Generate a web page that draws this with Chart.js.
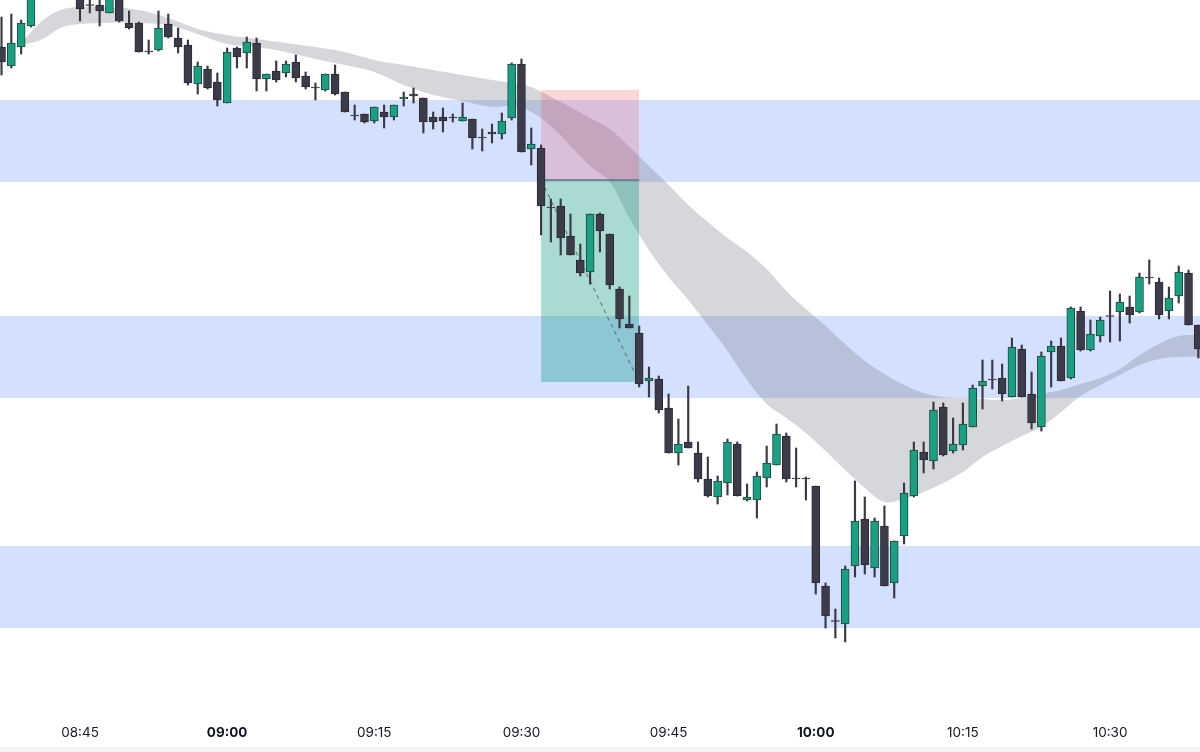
<!DOCTYPE html>
<html>
<head>
<meta charset="utf-8">
<script src="https://cdn.jsdelivr.net/npm/chart.js@4.4.1/dist/chart.umd.min.js"></script>
<style>
html,body{margin:0;padding:0;background:#fff;overflow:hidden}
#wrap{position:relative;width:1200px;height:752px}
#strip{position:absolute;left:0;bottom:0;width:1200px;height:5px;background:#f3f3f4}
canvas{display:block}
</style>
</head>
<body>
<div id="wrap"><canvas id="c" width="1200" height="752"></canvas><div id="strip"></div></div>
<script>
// ---- candles: minutes after 08:45 ----
const minutes = [-8,-7,-6,-5,
  0,1,2,3,4,5,6,7,8,9,10,11,12,13,14,15,16,17,18,19,20,21,22,23,24,25,26,27,28,29,
  30,31,32,33,34,35,36,37,38,39,40,41,42,43,44,45,46,47,48,49,50,51,52,53,54,55,56,57,58,59,
  60,61,62,63,64,65,66,67,68,69,70,71,72,73,74,75,76,77,78,79,80,81,82,83,84,85,86,87,88,89,
  90,91,92,93,94,95,96,97,98,99,100,101,102,103,104,105,106,107,108,109,110,111,112,113,114];
const opens = [665,646,665,686,
  717,707.5,707,699,717,689,689,661,662,688,674,667,628,643,630,609,664,659,669,633,641,639,650,636,625,622,638,620,597,598,
  591,600,595,613,618,614,595,595,595,591,593,575,580,578,594,648,563,564,505,506,476,452,440,498,478,423,388,379,331,333,
  304,259,270,259,233,215,229,268,212,212,234,247,276,234,234,226,126,91.5,88,146,193,144,186,129,176,216,260,251,305,261,
  267,285,326,333,334,315,363,318,285,360,366,334,401,362,376,396.5,400,405,400,435,430,401,416,439,387];
const highs = [695,698,692,727,
  722,715,714,720,720,701,690,672,701,698,684,672,650,646,639,664,665,675,674,638,651,651,657,640,629,638,647,620,607,598,
  605,607,607,620,624,614,600,604,598,609,593,583,588,599,649,653,584,567,513,513,498,468,498,499,478,425,416,386,345,336,
  318,293,326,270,255,236,273,270,228,240,266,288,279,264,235,226,129,103,146,231,215,194,206,171,229,270,270,310,309,294,
  309,327,352,352,348,374,367,340,360,371,374,405,405,392,395,421,418,416,439,452,434,425,446,442,387];
const lows = [637,644,658,685,
  691,699,686,699,690,683,660,658,661,674,659,627,618,623,606,609,644,644,621,621,630,635,630,623,612,621,617,600,592,589,
  589,584,592,606,609,579,583,580,590,591,563,561,569,573,592,560,547,477,470,457,457,436,428,460,423,384,384,325,315,299,
  259,247,264,230,215,208,217,216,211,194,225,247,230,225,212,118,84,74,70,135,138,135,126,114,168,215,239,243,256,259,
  262,285,303,323,311,315,315,283,281,325,331,333,361,361,370,370,371,389,399,428,393,393,409,387,354];
const closes = [650,669,689,722,
  703,706.5,701,717,691,684,660,660,684,675,665,629,646,624,612,660,655,670,633,638,632,648,634,625,624,638,618,600,596,590,
  605,595,607,615,616,590,590,591,594,595,574,574,578,591,648,560,568,506,504,474,457,439,498,481,427,393,384,328,334,302,
  259,268,264,233,216,231,270,216,215,236,249,278,233,233,233,129,96,90.5,143,191,147,191,126,171,219,262,252,302,257,268,
  288,324,331,332,318,365,315,289,356,366,331,404,362,378,392,395.5,410,397,435,434,397,414,440,387,363];

// ---- moving-average ribbon (upper / lower edges) ----
const ribbonMinutes = [-6.1,-4,-2,0,3,6,9,12,15,18,21,24,27,30,33,36,39,42,44,46,48,50,52,54,56,58,60,62,64,66,68,70,72,74,76,78,80,82,84,86,88,90,92,94,96,98,100,102,104,106,108,110,112,114.2];
const ribbonUpper = [668,690,702,705,705,702,694,683,677,673,669,665,660,652,647,642,637,632,629,625,615,605,594,583,565,546,527,507,490,474,460,443,421,403,386,368,351,338,327,319,315,314,313,312,314,318,322,328,334,343,357,368,376,377];
const ribbonLower = [667,672,684,688,689,689,687,678,668,665,660,653,647,640,627,617,611,605,606,600,586,566,546,530,494,462,435,412,387,361,332,308,294,279,261,242,224,210,213,220,229,240,255,266,276,285,300,316,327,337,347,353,355,355];

// ---- horizontal zones [top, bottom] ----
const zoneTops = [612, 396, 166];
const zoneBottoms = [530, 314, 84];

// ---- short position tool ----
const posStart = 47, posEnd = 57;
const stopLevel = 622, entryLevel = 532, targetLevel = 330;

// ---- axis ----
const xMin = -8.155, xMax = 114.17;
const tickMinutes = [0,15,30,45,60,75,90,105];
const tickLabels = ['08:45','09:00','09:15','09:30','09:45','10:00','10:15','10:30'];
const boldLabels = ['09:00','10:00'];

const GREEN = '#17a081', GREEN_EDGE = '#24443e';
const DARK = '#3c3b49', DARK_EDGE = '#2b2a35';
const WICK = '#3a3945';

const bodies = minutes.map((m,i)=>({x:m, y:[opens[i], closes[i]]}));
const wicks = minutes.map((m,i)=>({x:m, y:[lows[i], highs[i]]}));
const isUp = i => closes[i] > opens[i];

const zoneSets = zoneTops.map((t,k)=>({
  type:'line', data:[{x:xMin,y:t},{x:xMax,y:t}], borderColor:'transparent', borderWidth:0,
  pointRadius:0, fill:{value:zoneBottoms[k]}, backgroundColor:'rgba(41,98,255,0.2)', order:20
}));

const datasets = [
  ...zoneSets,
  {type:'line', data: ribbonMinutes.map((m,i)=>({x:m,y:ribbonUpper[i]})), borderColor:'transparent', borderWidth:0,
   pointRadius:0, tension:0.35, fill:false, order:15},
  {type:'line', data: ribbonMinutes.map((m,i)=>({x:m,y:ribbonLower[i]})), borderColor:'transparent', borderWidth:0,
   pointRadius:0, tension:0.35, fill:'-1', backgroundColor:'rgba(120,123,134,0.3)', order:15},
  {type:'line', data:[{x:posStart,y:stopLevel},{x:posEnd,y:stopLevel}], borderColor:'transparent', borderWidth:0,
   pointRadius:0, fill:{value:entryLevel}, backgroundColor:'rgba(242,54,69,0.2)', order:12},
  {type:'line', data:[{x:posStart,y:targetLevel},{x:posEnd,y:targetLevel}], borderColor:'transparent', borderWidth:0,
   pointRadius:0, fill:{value:entryLevel}, backgroundColor:'rgba(8,153,129,0.35)', order:12},
  {type:'line', data:[{x:posStart,y:entryLevel},{x:posEnd,y:entryLevel}], borderColor:'#6f727d', borderWidth:1.5,
   pointRadius:0, fill:false, order:11},
  {type:'line', data:[{x:posStart,y:entryLevel},{x:posEnd,y:targetLevel}], borderColor:'#5d606b', borderWidth:1,
   borderDash:[4,4], pointRadius:0, fill:false, order:11},
  {type:'bar', data:wicks, backgroundColor:WICK, borderWidth:0, barThickness:1.5, grouped:false, order:2},
  {type:'bar', data:bodies, grouped:false, barThickness:8, borderWidth:1, borderSkipped:false,
   backgroundColor: c => isUp(c.dataIndex) ? GREEN : DARK,
   borderColor: c => isUp(c.dataIndex) ? GREEN_EDGE : DARK_EDGE, order:1}
];

new Chart(document.getElementById('c'), {
  type:'bar',
  data:{datasets},
  options:{
    responsive:false, animation:false, events:[],
    layout:{padding:0},
    plugins:{legend:{display:false}, tooltip:{enabled:false}},
    scales:{
      x:{type:'linear', min:xMin, max:xMax, offset:false,
        grid:{display:false}, border:{display:false},
        afterFit: s => { s.height = 40; },
        afterBuildTicks: s => { s.ticks = tickMinutes.map(v=>({value:v})); },
        ticks:{padding:5, maxRotation:0, autoSkip:false, color:'#131722',
          callback: v => { const k = tickMinutes.indexOf(v); return k>=0 ? tickLabels[k] : ''; },
          font: ctx => {
            const k = ctx.tick ? tickMinutes.indexOf(ctx.tick.value) : -1;
            return {family:'Inter, "Noto Sans", sans-serif', size:13.5,
              weight: (k>=0 && boldLabels.includes(tickLabels[k])) ? 'bold' : 'normal'};
          }
        }
      },
      y:{display:false, min:0, max:712}
    }
  }
});
</script>
</body>
</html>
